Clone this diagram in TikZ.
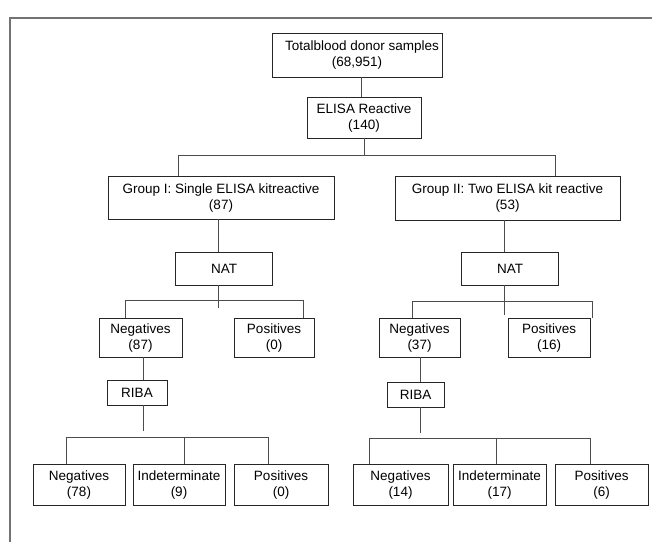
\documentclass[tikz,border=0pt]{standalone}
\usepackage{fontspec}
\setmainfont{Liberation Sans}
\usepackage{tikz}

\begin{document}
\begin{tikzpicture}[x=1pt, y=-1pt,
	box/.style={draw=black!85, line width=0.8pt, inner sep=0pt, align=center,
		font=\fontsize{13.5}{16}\selectfont},
	link/.style={draw=black!70, line width=0.8pt}]
	
	\useasboundingbox (0,0) rectangle (652,542);
	\draw[black!55, line width=2pt] (10,542) -- (10,18) -- (652,18);
	
	% top of the tree
	\node[box, minimum width=170, minimum height=44] (total) at (357,55)   {\hspace*{10pt}Totalblood donor samples\\(68,951)};
	\node[box, minimum width=114, minimum height=41] (elisa) at (364,117.5) {ELISA Reactive\\(140)};
	
	\node[box, minimum width=226, minimum height=43] (g1) at (221,197.5)   {Group I: Single ELISA kitreactive\\(87)};
	\node[box, minimum width=225, minimum height=44] (g2) at (507.5,198)   {Group II: Two ELISA kit reactive\\(53)};
	
	\node[box, minimum width=97, minimum height=33] (nat1) at (224,268.5) {NAT};
	\node[box, minimum width=97, minimum height=33] (nat2) at (510,268.5) {NAT};
	
	\node[box, minimum width=83, minimum height=39] (neg1) at (140.5,337.5) {Negatives\\(87)};
	\node[box, minimum width=80, minimum height=39] (pos1) at (274,337.5)   {Positives\\(0)};
	\node[box, minimum width=81, minimum height=39] (neg2) at (419.5,337.5) {Negatives\\(37)};
	\node[box, minimum width=82, minimum height=39] (pos2) at (549,337.5)   {Positives\\(16)};
	
	\node[box, minimum width=60, minimum height=25] (riba1) at (137,392.5)   {RIBA};
	\node[box, minimum width=57, minimum height=25] (riba2) at (415.5,394.5) {RIBA};
	
	\node[box, minimum width=92, minimum height=41] (neg3) at (79,484.5)    {Negatives\\(78)};
	\node[box, minimum width=92, minimum height=41] (ind1) at (179,484.5)   {Indeterminate\\(9)};
	\node[box, minimum width=94, minimum height=41] (pos3) at (281,484.5)   {Positives\\(0)};
	\node[box, minimum width=95, minimum height=41] (neg4) at (400.5,485)   {Negatives\\(14)};
	\node[box, minimum width=93, minimum height=41] (ind2) at (499.5,484.5) {Indeterminate\\(17)};
	\node[box, minimum width=93, minimum height=41] (pos4) at (601.5,485)   {Positives\\(6)};
	
	% bar ends
	\coordinate (b1l) at (178,155);
	\coordinate (b1r) at (555,155);
	\coordinate (b2l) at (125,300);
	\coordinate (b2r) at (303,300);
	\coordinate (s2)  at (218,308);
	\coordinate (b3l) at (412,301);
	\coordinate (b3r) at (592,301);
	\coordinate (s3)  at (504,315);
	\coordinate (s4)  at (143,431);
	\coordinate (b4l) at (66,437);
	\coordinate (b4r) at (268,437);
	\coordinate (s5)  at (420,433);
	\coordinate (b5l) at (369,438);
	\coordinate (b5r) at (590,438);
	
	\path[link] (total.south -| 361,0) edge (361,0 |- elisa.north);
	\path[link] (elisa.south) edge (elisa.south |- b1l);
	\draw[link] (b1l |- g1.north) |- (b1r) -- (b1r |- g2.north);
	
	\path[link] (s2 |- g1.south) edge (s2 |- nat1.north);
	\path[link] (s2 |- nat1.south) edge (s2);
	\draw[link] (b2l |- neg1.north) |- (b2r) -- (b2r |- pos1.north);
	
	\path[link] (s3 |- g2.south) edge (s3 |- nat2.north);
	\path[link] (s3 |- nat2.south) edge (s3);
	\draw[link] (b3l |- neg2.north) |- (b3r) -- (b3r |- pos2.north);
	
	\path[link] (s4 |- neg1.south) edge (s4 |- riba1.north);
	\path[link] (s4 |- riba1.south) edge (s4);
	\draw[link] (b4l |- neg3.north) |- (b4r) -- (b4r |- pos3.north);
	\path[link] (ind1.north -| 184,0) edge (184,437);
	
	\path[link] (s5 |- neg2.south) edge (s5 |- riba2.north);
	\path[link] (s5 |- riba2.south) edge (s5);
	\draw[link] (b5l |- neg4.north) |- (b5r) -- (b5r |- pos4.north);
	\path[link] (ind2.north -| 496,0) edge (496,438);
	
\end{tikzpicture}
\end{document}
